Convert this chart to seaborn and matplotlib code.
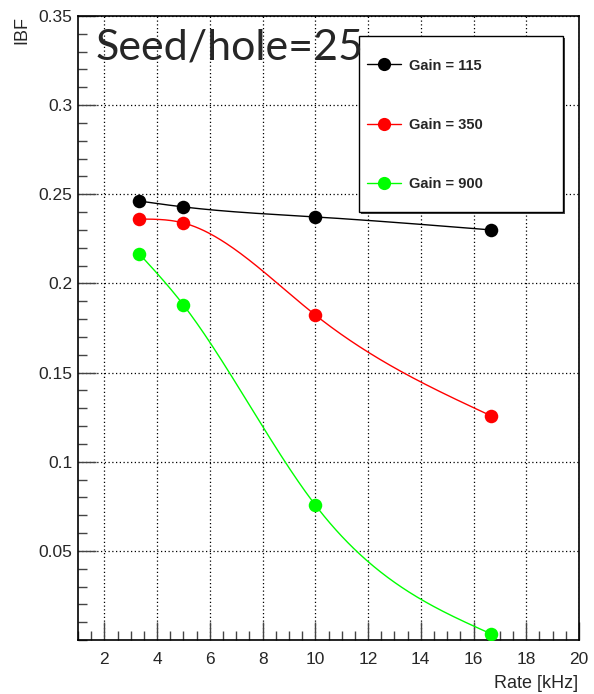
import numpy as np
import pandas as pd
import matplotlib
matplotlib.use("Agg")
import matplotlib.pyplot as plt
import seaborn as sns
from matplotlib.lines import Line2D
from matplotlib.patches import Rectangle
from matplotlib.ticker import MultipleLocator, FixedLocator, FixedFormatter

# ---- data ----
rate = [3.33, 5.0, 10.0, 16.67]
ibf_115 = [0.2462, 0.2429, 0.2373, 0.2300]
ibf_350 = [0.2361, 0.2339, 0.1823, 0.1257]
ibf_900 = [0.2165, 0.1879, 0.0757, 0.0034]
series_labels = ["Gain = 115", "Gain = 350", "Gain = 900"]
series_colors = ["#000000", "#ff0000", "#00ff00"]
x_ticks = [2, 4, 6, 8, 10, 12, 14, 16, 18, 20]
y_ticks = [0.05, 0.1, 0.15, 0.2, 0.25, 0.3, 0.35]
y_tick_labels = ["0.05", "0.1", "0.15", "0.2", "0.25", "0.3", "0.35"]
title_text = "Seed/hole=25"
x_label = "Rate [kHz]"
y_label = "IBF"


def natural_spline(x, y, xs):
    x = np.asarray(x, float); y = np.asarray(y, float)
    n = len(x)
    h = np.diff(x)
    A = np.zeros((n, n)); b = np.zeros(n)
    A[0, 0] = 1; A[-1, -1] = 1
    for i in range(1, n - 1):
        A[i, i - 1] = h[i - 1]
        A[i, i] = 2 * (h[i - 1] + h[i])
        A[i, i + 1] = h[i]
        b[i] = 6 * ((y[i + 1] - y[i]) / h[i] - (y[i] - y[i - 1]) / h[i - 1])
    M = np.linalg.solve(A, b)
    out = np.empty_like(xs)
    for k, xv in enumerate(xs):
        i = min(max(np.searchsorted(x, xv) - 1, 0), n - 2)
        t1 = x[i + 1] - xv; t0 = xv - x[i]
        out[k] = (M[i] * t1 ** 3 + M[i + 1] * t0 ** 3) / (6 * h[i]) \
            + (y[i] / h[i] - M[i] * h[i] / 6) * t1 \
            + (y[i + 1] / h[i] - M[i + 1] * h[i] / 6) * t0
    return out


sns.set_style("white")
plt.rcParams['font.family'] = ['Liberation Sans', 'DejaVu Sans']

fig = plt.figure(figsize=(5.94, 6.94), dpi=100)
ax = fig.add_axes([78 / 594, 1 - 640 / 694, (579 - 78) / 594, (640 - 16) / 694])

all_series = [ibf_115, ibf_350, ibf_900]
for vals, col, lab in zip(all_series, series_colors, series_labels):
    xs = np.linspace(rate[0], rate[-1], 300)
    ys = natural_spline(rate, vals, xs)
    sns.lineplot(x=xs, y=ys, color=col, lw=1.0, sort=False, ax=ax, zorder=3)
    df = pd.DataFrame({"x": rate, "y": vals})
    sns.scatterplot(data=df, x="x", y="y", color=col, s=95, linewidth=0,
                    ax=ax, zorder=4)

ax.set_xlim(1, 20)
ax.set_ylim(0, 0.35)
ax.xaxis.set_major_locator(FixedLocator(x_ticks))
ax.xaxis.set_minor_locator(MultipleLocator(0.5))
ax.yaxis.set_major_locator(FixedLocator(y_ticks))
ax.yaxis.set_major_formatter(FixedFormatter(y_tick_labels))
ax.yaxis.set_minor_locator(MultipleLocator(0.01))
ax.tick_params(axis='both', which='major', direction='in', length=13, width=1,
               color='#444444', labelsize=12.5, top=False, right=False,
               bottom=True, left=True)
ax.tick_params(axis='both', which='minor', direction='in', length=6.5, width=1,
               color='#444444', top=False, right=False, bottom=True, left=True)
ax.tick_params(axis='x', which='major', pad=9)
ax.tick_params(axis='y', which='major', pad=4)
ax.grid(True, which='major', linestyle=(0, (1, 2)), color='black', lw=0.9)
ax.grid(False, which='minor')
for sp in ax.spines.values():
    sp.set_color('black'); sp.set_linewidth(1.2)
ax.set_xlabel(""); ax.set_ylabel("")

fig.text(578 / 594, 1 - 683 / 694, x_label, ha='right', va='center', fontsize=13)
fig.text(22 / 594, 1 - 16 / 694, y_label, ha='center', va='top', rotation=90, fontsize=13)

# legend box
fig.patches.append(Rectangle((361 / 594, 1 - 214 / 694), 204 / 594, 176 / 694,
                             transform=fig.transFigure, facecolor='#444444',
                             edgecolor='none', zorder=5))
fig.patches.append(Rectangle((359 / 594, 1 - 212 / 694), 204 / 594, 176 / 694,
                             transform=fig.transFigure, facecolor='white',
                             edgecolor='black', lw=1.0, zorder=6))
handles = [Line2D([0], [0], color=c, lw=1, marker='o', markersize=9.5,
                  markeredgewidth=0) for c in series_colors]
leg = fig.legend(handles, series_labels, loc='upper left',
                 bbox_to_anchor=(367 / 594, 1 - 58.5 / 694), bbox_transform=fig.transFigure,
                 frameon=False, borderpad=0, borderaxespad=0, handlelength=2.35,
                 handletextpad=0.5, labelspacing=3.12,
                 prop={'weight': 'bold', 'size': 10.5})
leg.set_zorder(7)

fig.text(96 / 594, 1 - 60 / 694, title_text, fontsize=31,
         family=['Lato', 'DejaVu Sans'], ha='left', va='baseline', zorder=8)

fig.savefig("out.png", dpi=100)
